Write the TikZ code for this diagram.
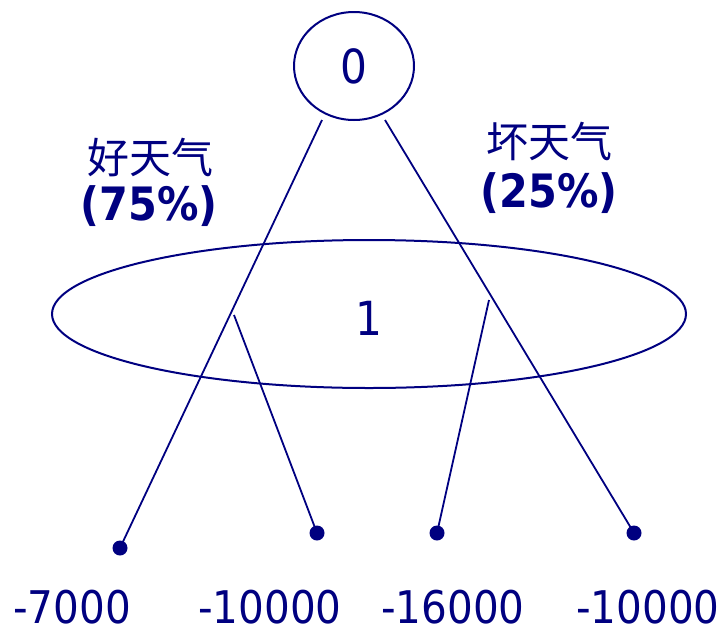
\documentclass[tikz,border=0pt]{standalone}
\usepackage{fontspec}
\setmainfont{DejaVu Sans Condensed}
\newfontfamily\cjk{Noto Sans CJK SC}
\newfontfamily\boldf{DejaVu Sans Condensed Bold}
\usetikzlibrary{shapes.geometric}
\definecolor{navy}{RGB}{0,0,128}
\begin{document}
\begin{tikzpicture}[x=1pt,y=-1pt,
  every node/.style={text=navy},
  ell/.style={draw=navy,line width=2pt,ellipse,inner sep=0pt},
  conn/.style={draw=navy,line width=1.8pt},
  leaf/.style={circle,fill=navy,inner sep=0pt,minimum size=15pt},
  val/.style={font=\fontsize{45}{48}\selectfont,inner sep=0pt,text depth=0pt,anchor=base},
  cn/.style={font=\cjk\fontsize{42}{46}\selectfont},
  pct/.style={font=\boldf\fontsize{46}{50}\selectfont}]
\useasboundingbox (0,0) rectangle (725,632);
\node[ell,minimum width=120pt,minimum height=108pt,font=\fontsize{47}{50}\selectfont] (n0) at (354,66) {0};
\node[ell,minimum width=634pt,minimum height=148pt] (n1) at (369,314) {};
\node[font=\fontsize{47}{50}\selectfont] (one) at (369,318) {1};
\coordinate (s1) at (322,120);
\coordinate (s2) at (385,120);
\coordinate (s3) at (234,315);
\coordinate (s4) at (489,300);
\node[leaf] (d1) at (120,548) {};
\node[leaf] (d2) at (317,533) {};
\node[leaf] (d3) at (437,533) {};
\node[leaf] (d4) at (634,533) {};
\draw[conn] (s1) -- (d1.center);
\draw[conn] (s2) -- (d4.center);
\draw[conn] (s3) -- (d2.center);
\draw[conn] (s4) -- (d3.center);
\node[cn] (g) at (150,158) {好天气};
\node[pct] (gp) at (149,206) {(75\%)};
\node[cn] (b) at (549,141) {坏天气};
\node[pct] (bp) at (549,193) {(25\%)};
\node[val] (v1) at (72,623) {-7000};
\node[val] (v2) at (270,623) {-10000};
\node[val] (v3) at (453,623) {-16000};
\node[val] (v4) at (648,623) {-10000};
\end{tikzpicture}
\end{document}
